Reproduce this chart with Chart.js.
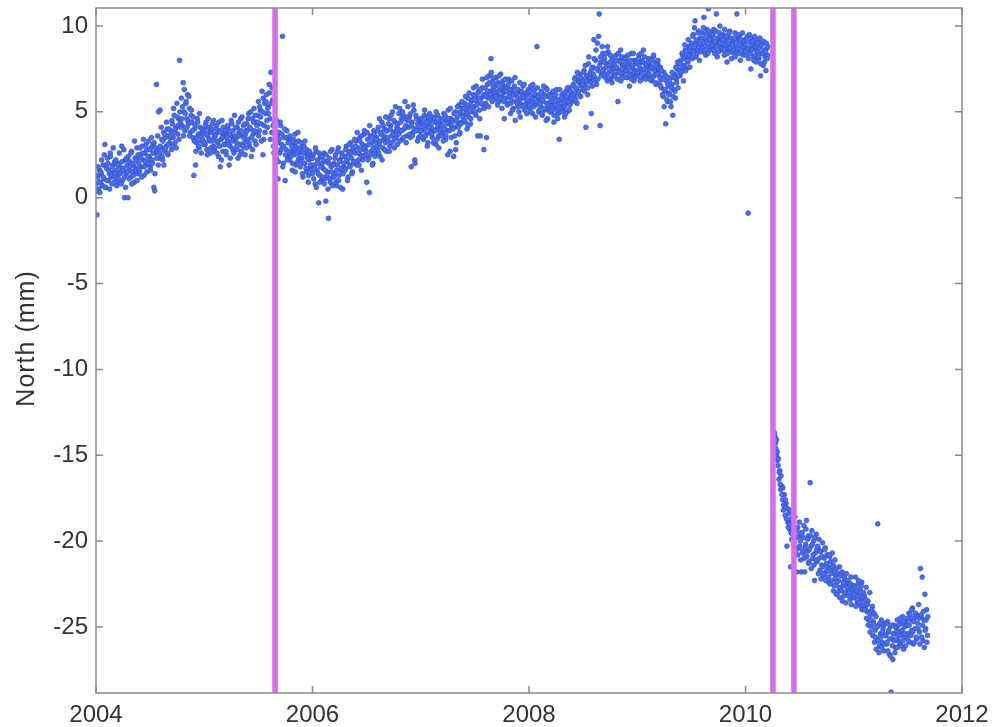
<!DOCTYPE html>
<html>
<head>
<meta charset="utf-8">
<title>North (mm)</title>
<script src="https://cdn.jsdelivr.net/npm/chart.js@4.4.1/dist/chart.umd.min.js"></script>
<style>
  html, body { margin: 0; padding: 0; background: #fff; }
  #wrap { width: 1007px; height: 727px; }
</style>
</head>
<body>
<div id="wrap"><canvas id="north" width="1007" height="727"></canvas></div>
<script>
// GPS north component (mm). Two interleaved passes, each one sample every 3 days;
// the second pass is offset by one day.
const DAY_STEP = 3;
const YEAR_DAYS = 365.25;

const north2004 = [
  0.8, -1.0, 1.2, 0.5, 1.6, 0.9, 1.4, 0.7, 1.9, 1.1, 3.1, 0.6,
  1.7, 2.3, 1.0, 1.4, 2.6, 1.2, 0.8, 1.9, 1.5, 2.1, 1.1, 1.6,
  1.3, 2.0, 0.9, 1.8, 1.5, 3.0, 1.0, 1.7, 0.0, 2.2, 1.4, 1.9,
  0.0, 1.6, 2.1, 1.2, 2.7, 1.5, 1.9, 0.9, 2.3, 1.7, 2.9, 1.4,
  2.0, 1.5, 2.5, 1.8, 3.0, 2.2, 1.3, 2.6, 1.9, 2.8, 2.1, 3.3,
  2.4, 1.8, 2.9, 2.2, 3.1, 0.6, 0.4, 2.6, 6.6, 2.7, 1.9, 2.3,
  5.1, 2.9, 3.4, 2.2, 3.8, 2.7, 3.5, 3.0, 4.0, 2.5, 3.6, 3.2,
  3.9, 2.8, 4.3, 3.5, 4.8, 3.2, 4.1, 5.5, 3.7, 4.6, 8.0, 4.4,
  5.8, 4.2, 6.7, 5.0, 3.9, 5.5, 4.6, 6.0, 4.3, 5.2, 3.8, 4.8,
  4.4, 3.5, 1.3, 4.0, 1.9, 3.2, 4.6, 3.7, 2.9, 4.1, 3.3, 3.8,
  3.4, 4.0
];
const north2004b = [
  1.3, 0.4, 1.8, 0.9, 0.3, 1.5, 2.2, 0.7, 1.2, 2.5, 0.6, 1.9,
  1.0, 2.0, 1.6, 0.5, 2.4, 1.3, 1.8, 2.9, 0.9, 1.4, 2.2, 0.7,
  1.9, 1.1, 2.6, 1.4, 0.8, 2.1, 1.6, 2.8, 1.2, 0.6, 2.3, 1.5,
  2.4, 1.1, 1.8, 2.6, 0.8, 2.0, 1.3, 3.3, 1.6, 2.2, 1.0, 2.5,
  1.7, 2.9, 2.3, 1.2, 2.6, 3.4, 1.8, 2.1, 3.1, 1.5, 2.4, 2.0,
  2.8, 1.6, 3.5, 2.0, 2.6, 3.2, 1.4, 2.9, 2.3, 3.6, 5.0, 2.6,
  3.0, 4.1, 2.4, 3.3, 1.9, 3.7, 2.9, 4.4, 2.6, 3.1, 4.0, 3.5,
  3.6, 4.5, 3.0, 5.2, 3.8, 4.0, 2.9, 4.7, 4.2, 3.4, 5.0, 4.1,
  4.6, 5.3, 3.6, 6.3, 4.9, 5.6, 4.1, 4.5, 5.9, 3.6, 4.4, 5.1,
  3.9, 4.7, 3.3, 4.2, 2.7, 3.5, 4.4, 3.0, 4.9, 3.6, 2.6, 4.0,
  3.7, 3.1
];
const north2005 = [
  3.9, 3.1, 4.4, 2.8, 3.6, 4.1, 3.3, 2.6, 3.8, 4.3, 3.0, 3.5,
  2.9, 3.7, 4.2, 3.2, 2.4, 3.9, 1.8, 3.4, 4.5, 2.7, 3.6, 3.1,
  3.8, 2.5, 3.3, 4.0, 1.9, 3.0, 3.6, 4.3, 2.8, 3.4, 4.8, 2.9,
  3.5, 4.1, 2.3, 3.8, 3.1, 4.6, 2.7, 3.6, 4.2, 3.2, 2.5, 3.9,
  4.3, 3.4, 4.9, 3.0, 4.0, 2.4, 4.6, 3.7, 5.2, 3.3, 4.4, 3.8,
  4.8, 5.6, 3.9, 5.1, 4.3, 6.2, 2.5, 3.4, 5.5, 4.9, 6.0, 4.1,
  5.3, 6.6, 4.6, 7.3, 3.8, 5.7, 3.0, 4.4, 4.1, 2.3, 3.6, 1.1,
  3.8, 2.6, 4.2, 3.1, 9.4, 2.0, 3.5, 1.0, 2.8, 3.9, 2.4, 3.3,
  2.2, 3.4, 2.7, 1.6, 3.1, 2.5, 3.7, 1.9, 2.9, 2.1, 3.3, 2.6,
  1.8, 2.8, 2.3, 1.2, 3.0, 2.0, 2.6, 1.5, 2.4, 0.9, 2.2, 1.7,
  2.5, 1.9
];
const north2005b = [
  3.2, 4.2, 3.7, 2.5, 4.6, 3.4, 3.9, 2.9, 4.0, 3.3, 4.5, 2.7,
  3.6, 4.0, 2.6, 3.3, 4.4, 3.0, 3.8, 2.2, 3.5, 4.1, 3.1, 3.9,
  2.7, 3.5, 4.2, 3.1, 3.7, 2.3, 4.5, 3.3, 3.9, 2.6, 3.6, 4.1,
  3.2, 2.8, 4.4, 3.6, 2.5, 3.9, 4.7, 3.0, 3.5, 4.3, 3.7, 2.9,
  3.9, 4.6, 3.2, 4.1, 5.0, 3.5, 2.8, 4.4, 3.9, 4.8, 3.1, 4.2,
  4.4, 3.6, 5.3, 4.7, 3.3, 5.0, 5.8, 4.2, 3.8, 5.6, 4.5, 5.2,
  4.9, 6.1, 3.4, 5.5, 6.4, 4.2, 2.6, 3.7, 2.9, 4.5, 3.2, 2.1,
  3.4, 4.4, 2.8, 3.7, 1.8, 3.0, 4.0, 2.5, 3.5, 2.2, 3.2, 2.7,
  3.6, 2.4, 3.0, 2.0, 3.4, 2.8, 1.5, 3.2, 2.6, 3.8, 2.3, 2.9,
  2.1, 3.2, 1.4, 2.6, 2.0, 3.3, 1.7, 2.8, 2.3, 1.3, 2.7, 1.9,
  1.6, 2.3
];
const north2006 = [
  1.4, 2.5, 1.9, 0.8, 2.7, 1.6, 2.2, -0.3, 1.3, 2.4, 1.0, 2.0,
  1.7, 2.6, 1.1, -0.2, 2.1, 1.5, -1.2, 2.3, 0.9, 1.8, 2.8, 1.2,
  2.0, 1.4, 2.5, 0.7, 1.9, 2.9, 1.3, 2.2, 1.6, 2.6, 0.5, 1.8,
  2.4, 1.7, 3.0, 2.1, 1.2, 2.7, 1.9, 3.2, 2.3, 1.5, 2.8, 2.0,
  2.6, 3.3, 1.9, 2.9, 2.2, 3.5, 2.5, 1.6, 3.1, 2.4, 3.7, 2.8,
  3.0, 0.9, 3.4, 2.3, 0.3, 3.6, 2.7, 3.2, 2.0, 3.9, 2.6, 3.3,
  3.5, 2.8, 4.1, 3.1, 2.4, 3.7, 4.4, 2.9, 3.4, 4.0, 3.2, 2.7,
  3.9, 3.3, 4.6, 3.0, 4.2, 3.6, 5.0, 3.8, 2.9, 4.4, 3.5, 4.1,
  4.3, 3.7, 5.2, 3.9, 4.6, 3.4, 4.8, 4.0, 5.6, 4.2, 3.6, 4.5,
  4.1, 4.7, 3.5, 1.8, 4.4, 3.8, 5.1, 2.2, 4.0, 4.6, 3.3, 4.3,
  3.9, 4.5
];
const north2006b = [
  2.3, 1.1, 1.7, 2.9, 0.6, 2.0, 1.4, 2.6, 0.9, 1.8, 2.4, 1.2,
  2.2, 0.8, 1.6, 2.5, 1.3, 0.5, 2.0, 1.1, 2.7, 1.5, 0.7, 1.9,
  1.2, 2.3, 0.9, 1.6, 2.7, 1.0, 2.1, 0.6, 1.7, 2.4, 1.4, 2.0,
  1.6, 2.8, 2.2, 1.0, 2.5, 3.1, 1.8, 2.6, 1.4, 2.9, 2.1, 3.4,
  3.0, 2.1, 3.8, 2.6, 1.9, 3.3, 2.8, 3.6, 2.2, 2.9, 3.9, 2.5,
  2.7, 3.8, 2.2, 3.1, 4.2, 2.5, 3.5, 1.9, 2.9, 3.7, 2.4, 3.4,
  3.0, 3.9, 2.6, 4.6, 3.3, 3.8, 2.2, 4.2, 3.6, 2.8, 4.7, 3.9,
  3.5, 4.3, 2.7, 4.0, 4.8, 3.2, 3.7, 4.5, 3.4, 5.3, 3.9, 3.1,
  4.0, 4.9, 3.3, 4.4, 3.9, 5.0, 3.5, 4.6, 4.1, 3.2, 4.7, 5.3,
  4.5, 3.7, 4.9, 4.2, 3.6, 5.4, 4.0, 2.0, 4.8, 3.9, 4.3, 3.5,
  4.2, 3.6
];
const north2007 = [
  4.6, 3.9, 4.3, 3.4, 4.8, 4.0, 3.7, 4.5, 3.2, 4.2, 4.9, 3.8,
  4.1, 3.5, 4.7, 3.9, 4.4, 3.1, 4.0, 4.8, 3.6, 4.3, 3.8, 4.6,
  4.2, 3.7, 4.9, 4.0, 3.4, 4.5, 3.9, 5.1, 4.3, 2.7, 4.6, 4.1,
  4.5, 2.4, 4.1, 5.0, 3.2, 4.7, 4.3, 5.4, 3.8, 4.9, 4.4, 5.2,
  4.8, 5.5, 4.4, 5.1, 4.0, 5.8, 4.7, 5.3, 4.3, 5.6, 5.0, 6.0,
  5.3, 5.9, 4.8, 5.6, 3.6, 6.2, 5.1, 3.6, 5.8, 6.4, 5.4, 2.8,
  6.0, 5.5, 3.5, 6.6, 5.8, 7.1, 6.2, 8.1, 5.9, 6.8, 6.3, 5.7,
  6.5, 7.0, 6.0, 6.7, 5.6, 6.3, 7.2, 5.9, 6.6, 6.1, 4.6, 6.4,
  5.8, 6.4, 5.5, 6.9, 6.1, 4.9, 5.7, 6.3, 5.2, 6.0, 7.0, 5.6,
  5.9, 5.3, 6.2, 5.6, 4.7, 6.1, 5.4, 6.5, 5.8, 5.1, 6.0, 5.5,
  5.7, 6.3
];
const north2007b = [
  3.9, 4.6, 3.5, 4.2, 5.1, 3.6, 4.4, 3.0, 4.7, 4.1, 3.8, 4.5,
  3.7, 4.4, 3.2, 4.6, 3.9, 5.0, 3.4, 4.2, 2.9, 4.5, 4.0, 3.6,
  4.5, 3.3, 4.0, 4.8, 3.6, 4.3, 2.5, 4.6, 3.9, 5.2, 3.5, 4.4,
  4.0, 4.9, 3.6, 2.8, 4.5, 5.3, 4.1, 3.7, 5.0, 4.3, 5.6, 4.7,
  5.2, 4.5, 5.9, 4.9, 5.4, 4.2, 6.1, 5.0, 4.6, 5.7, 5.3, 6.4,
  5.7, 5.0, 6.5, 5.4, 6.1, 5.8, 4.6, 6.3, 5.5, 6.9, 6.0, 5.2,
  6.4, 5.9, 7.0, 6.2, 5.3, 6.7, 6.0, 7.3, 5.6, 6.5, 7.0, 6.1,
  5.9, 6.6, 5.4, 6.2, 7.1, 5.8, 6.4, 5.2, 6.8, 5.6, 6.2, 6.9,
  6.2, 5.4, 6.6, 5.9, 6.3, 5.5, 6.8, 5.1, 6.0, 6.5, 4.5, 6.1,
  5.5, 6.3, 5.0, 6.7, 5.8, 6.2, 5.3, 5.9, 6.6, 5.4, 6.1, 4.9,
  6.0, 5.3
];
const north2008 = [
  6.1, 5.2, 6.5, 5.6, 4.9, 5.9, 6.3, 5.4, 6.0, 8.8, 5.7, 5.0,
  5.8, 5.3, 6.2, 4.8, 5.6, 6.0, 5.1, 6.4, 5.5, 4.6, 5.9, 5.2,
  5.6, 5.0, 6.1, 5.4, 4.4, 5.8, 5.2, 6.3, 5.5, 4.9, 3.4, 5.7,
  5.3, 6.0, 5.1, 5.8, 4.7, 5.5, 6.2, 5.0, 5.7, 6.4, 5.4, 5.9,
  6.1, 5.6, 6.6, 5.9, 7.0, 6.3, 5.5, 6.8, 6.2, 7.2, 5.9, 6.5,
  6.9, 6.3, 7.4, 6.6, 4.1, 7.1, 6.0, 7.8, 6.8, 7.3, 4.9, 7.0,
  7.6, 9.2, 7.0, 8.0, 6.6, 9.0, 7.4, 10.7, 4.2, 7.9, 7.2, 8.4,
  7.5, 8.1, 7.0, 7.8, 6.8, 8.5, 7.3, 7.9, 6.9, 8.2, 7.6, 7.1,
  7.8, 7.2, 8.3, 7.5, 5.6, 8.0, 7.4, 8.6, 7.1, 7.7, 8.1, 7.3,
  7.6, 8.2, 7.0, 7.9, 7.3, 6.5, 7.7, 8.4, 7.2, 7.5, 6.8, 8.0,
  7.4, 7.8
];
const north2008b = [
  5.4, 6.2, 5.0, 5.8, 6.6, 5.3, 6.0, 4.7, 5.6, 6.4, 5.9, 5.1,
  5.5, 6.1, 4.9, 5.7, 6.5, 5.2, 5.9, 4.5, 6.3, 5.4, 6.0, 5.0,
  5.9, 5.1, 5.6, 6.2, 4.8, 5.4, 6.0, 5.1, 4.6, 5.7, 6.3, 5.2,
  5.8, 5.0, 5.5, 6.1, 5.3, 4.9, 5.9, 6.4, 5.6, 5.1, 6.2, 5.7,
  5.8, 6.5, 6.0, 6.9, 5.7, 6.4, 7.3, 6.1, 6.7, 5.9, 7.0, 6.6,
  6.6, 7.3, 6.2, 7.7, 6.8, 7.1, 6.4, 8.2, 7.0, 6.7, 7.5, 6.5,
  7.2, 8.1, 6.8, 8.6, 7.5, 6.9, 9.4, 7.7, 8.2, 7.1, 8.8, 7.4,
  7.9, 7.2, 8.4, 7.6, 8.8, 7.0, 7.7, 8.3, 7.4, 6.7, 8.0, 7.5,
  7.1, 8.0, 7.6, 6.9, 8.4, 7.3, 7.9, 6.8, 8.2, 7.5, 7.0, 7.8,
  8.1, 7.4, 7.0, 8.3, 7.6, 7.1, 8.0, 6.9, 7.7, 8.4, 7.3, 7.0,
  7.9, 7.1
];
const north2009 = [
  7.9, 7.2, 8.3, 7.5, 6.9, 8.0, 7.4, 8.6, 7.1, 7.8, 7.0, 7.6,
  7.3, 8.1, 7.0, 7.7, 6.8, 7.5, 8.2, 7.1, 7.9, 6.6, 7.4, 7.8,
  7.2, 6.7, 7.6, 6.4, 7.0, 5.9, 7.3, 6.2, 4.3, 6.8, 5.6, 6.5,
  6.1, 7.0, 5.3, 6.6, 4.8, 6.3, 7.2, 5.8, 6.9, 7.5, 6.4, 7.8,
  7.1, 8.0, 7.4, 8.3, 6.8, 7.7, 8.6, 7.5, 8.2, 7.9, 8.8, 7.6,
  8.4, 9.0, 8.1, 9.5, 8.6, 10.3, 8.2, 9.1, 8.7, 9.7, 8.0, 9.3,
  8.9, 9.6, 8.5, 10.5, 9.2, 8.3, 9.8, 8.8, 11.0, 9.4, 8.6, 9.1,
  9.3, 8.7, 9.8, 8.4, 9.0, 10.7, 8.2, 9.2, 8.9, 10.0, 8.6, 9.4,
  8.8, 9.5, 8.3, 9.1, 8.7, 7.9, 9.3, 8.5, 9.7, 8.9, 8.1, 9.2,
  9.0, 8.4, 9.6, 8.7, 10.7, 9.2, 8.5, 9.4, 8.0, 8.8, 9.1, 8.3,
  8.6, 9.2
];
const north2009b = [
  7.3, 8.1, 7.7, 6.8, 8.4, 7.2, 7.9, 7.5, 8.2, 6.9, 7.8, 7.4,
  7.9, 7.2, 6.9, 8.0, 7.6, 7.0, 8.3, 7.4, 6.7, 7.7, 7.2, 8.0,
  7.5, 7.0, 6.5, 7.4, 6.0, 6.9, 5.3, 6.3, 7.1, 5.7, 6.6, 6.0,
  6.8, 5.6, 6.4, 7.3, 5.9, 7.0, 6.2, 7.6, 6.7, 7.9, 7.1, 7.4,
  7.8, 7.3, 8.4, 7.6, 8.1, 8.9, 7.4, 8.5, 8.0, 9.2, 8.3, 8.7,
  8.8, 8.2, 9.4, 8.5, 9.9, 8.9, 9.2, 8.4, 9.6, 8.8, 9.0, 8.5,
  9.3, 8.7, 9.9, 9.0, 8.6, 9.5, 9.1, 8.4, 9.7, 9.2, 8.8, 9.6,
  8.9, 9.5, 8.6, 9.1, 9.7, 8.8, 9.3, 8.5, 9.6, 9.0, 9.4, 8.7,
  9.2, 8.6, 9.8, 8.9, 9.4, 8.4, 9.0, 9.6, 8.7, 9.3, 8.5, 8.9,
  8.6, 9.3, 8.2, 9.0, 8.7, 9.5, 8.4, 8.9, 9.2, 8.5, 9.6, 8.8,
  9.1, 8.4
];
// 2010 up to the April event
const north2010a = [
  8.9, 8.3, 9.4, -0.9, 8.6, 9.1, 7.5, 8.8, 9.3, 8.2, 8.7, 9.0,
  7.9, 8.5, 9.2, 8.1, 8.8, 7.1, 8.4, 9.0, 7.7, 8.6, 8.2, 7.4,
  8.7, 8.3
];
const north2010ab = [
  8.5, 9.2, 8.7, 8.1, 9.5, 8.4, 8.9, 8.6, 9.1, 8.0, 9.4, 8.3,
  8.8, 9.0, 8.2, 8.7, 9.3, 7.8, 8.9, 8.4, 9.1, 7.9, 8.5, 9.0,
  8.1, 8.8
];
// post-seismic, starting day 98 of 2010
const POST_START_DAY = 98;
const north2010b = [
  -13.7, -14.3, -15.0, -14.8, -15.6, -16.4, -15.9, -17.0, -16.8, -17.6, -18.2, -17.3,
  -18.5, -17.8, -20.3, -18.9, -18.4, -19.3, -21.5, -18.7, -19.6, -19.0, -20.1, -18.6,
  -19.8, -21.8, -19.2, -20.4, -18.9, -20.0, -21.8, -19.5, -20.7, -19.1, -21.8, -20.2,
  -18.8, -20.6, -19.7, -21.2, -16.6, -20.3, -19.4, -21.0, -20.0, -22.3, -20.7, -19.6,
  -21.2, -20.4, -19.9, -21.7, -20.6, -21.4, -20.1, -22.0, -21.0, -20.4, -21.8, -20.8,
  -21.5, -22.4, -20.9, -21.2, -21.9, -20.7, -21.4, -22.6, -21.1, -22.0, -21.6, -23.0,
  -22.3, -21.5, -22.8, -22.0, -21.8, -22.6, -23.2, -22.2, -22.5, -21.9, -23.0, -22.4,
  -22.8, -23.4, -22.1, -23.0, -22.6
];
const north2010bb = [
  -13.9, -14.6, -14.1, -15.3, -15.2, -16.0, -16.7, -16.2, -17.3, -16.9, -17.9, -18.0,
  -17.6, -18.7, -18.1, -19.2, -19.0, -18.2, -19.5, -19.9, -18.8, -20.2, -19.3, -19.8,
  -20.5, -19.4, -20.8, -19.7, -20.3, -21.1, -19.6, -20.6, -19.8, -21.0, -20.4, -19.3,
  -20.9, -19.9, -21.3, -20.5, -19.7, -21.6, -20.2, -20.8, -21.4, -19.8, -21.1, -20.5,
  -20.3, -21.9, -21.0, -20.6, -22.2, -20.9, -21.5, -21.9, -20.5, -22.3, -21.3, -21.7,
  -22.1, -20.8, -22.5, -21.6, -22.3, -21.5, -22.9, -21.8, -22.2, -23.1, -22.4, -21.9,
  -22.7, -23.3, -22.0, -22.9, -23.5, -22.4, -22.1, -23.0, -23.6, -22.7, -22.3, -23.2,
  -23.0, -22.5, -23.7, -22.8, -23.3
];
const north2011 = [
  -22.6, -23.3, -22.1, -23.0, -23.6, -22.5, -23.1, -22.8, -23.8, -22.4, -23.4, -23.0,
  -23.2, -23.9, -22.7, -24.1, -23.5, -24.6, -23.0, -24.3, -25.0, -23.8, -24.7, -24.2,
  -25.2, -24.4, -25.8, -19.0, -24.9, -26.1, -25.4, -24.6, -25.9, -25.1, -26.4, -24.8,
  -25.5, -26.0, -24.7, -25.3, -26.6, -25.0, -28.8, -25.7, -26.9, -24.9, -25.4, -26.2,
  -25.1, -24.6, -25.8, -25.3, -26.0, -24.8, -25.5, -24.4, -26.3, -25.0, -24.7, -25.6,
  -24.9, -25.4, -24.2, -25.9, -24.6, -25.2, -23.9, -26.0, -24.5, -25.1, -24.3, -25.7,
  -24.8, -23.7, -25.3, -21.6, -24.4, -22.1, -25.8, -24.6, -23.1, -25.1, -24.0, -25.5
];
const north2011b = [
  -23.1, -22.7, -23.8, -22.9, -23.4, -22.3, -23.6, -23.2, -22.6, -24.0, -23.3, -23.7,
  -24.0, -23.4, -24.5, -23.7, -24.9, -24.2, -25.3, -24.6, -24.0, -25.5, -24.8, -25.9,
  -25.6, -26.3, -25.0, -25.8, -26.5, -24.8, -25.6, -26.2, -25.3, -24.9, -26.0, -25.5,
  -24.8, -25.9, -26.4, -25.2, -25.7, -26.7, -24.9, -26.1, -25.4, -25.8, -26.5, -25.0,
  -25.7, -26.2, -24.9, -25.5, -24.5, -26.1, -25.2, -25.8, -24.7, -25.4, -26.1, -24.9,
  -24.5, -25.8, -24.9, -24.3, -25.5, -24.0, -25.3, -24.7, -25.9, -24.2, -25.6, -24.4,
  -25.1, -24.5, -26.0, -24.3, -25.6, -24.9, -24.1, -26.2, -25.2, -24.6, -25.9, -24.4
];

// earthquake epochs (decimal year)
const eventYears = [2005.654, 2010.254, 2010.447];

const X_MIN = 2004, X_MAX = 2012;
const Y_MIN = -28.85, Y_MAX = 11.05;
const X_TICKS = [2004, 2006, 2008, 2010, 2012];
const Y_TICKS = [10, 5, 0, -5, -10, -15, -20, -25];
const FONT = 'Liberation Sans, Arial, sans-serif';

function toPoints(startYear, startDay, values) {
  return values.map((v, i) => ({ x: startYear + (startDay + i * DAY_STEP) / YEAR_DAYS, y: v }));
}

const gpsPoints = [
  ...toPoints(2004, 0, north2004), ...toPoints(2004, 1, north2004b),
  ...toPoints(2005, 0, north2005), ...toPoints(2005, 1, north2005b),
  ...toPoints(2006, 0, north2006), ...toPoints(2006, 1, north2006b),
  ...toPoints(2007, 0, north2007), ...toPoints(2007, 1, north2007b),
  ...toPoints(2008, 0, north2008), ...toPoints(2008, 1, north2008b),
  ...toPoints(2009, 0, north2009), ...toPoints(2009, 1, north2009b),
  ...toPoints(2010, 0, north2010a), ...toPoints(2010, 1, north2010ab),
  ...toPoints(2010, POST_START_DAY, north2010b), ...toPoints(2010, POST_START_DAY + 1, north2010bb),
  ...toPoints(2011, 0, north2011), ...toPoints(2011, 1, north2011b)
];

// box frame, inward tick marks on all four sides, rotated y title
const frameTicks = {
  id: 'frameTicks',
  afterDraw(chart) {
    const { ctx, chartArea: a, scales: { x, y } } = chart;
    ctx.save();
    ctx.strokeStyle = '#8a8a8a';
    ctx.lineWidth = 1.5;
    ctx.strokeRect(a.left, a.top, a.right - a.left, a.bottom - a.top);
    ctx.beginPath();
    for (const v of X_TICKS) {
      const px = x.getPixelForValue(v);
      ctx.moveTo(px, a.bottom); ctx.lineTo(px, a.bottom - 7);
      ctx.moveTo(px, a.top); ctx.lineTo(px, a.top + 7);
    }
    for (const v of Y_TICKS) {
      const py = y.getPixelForValue(v);
      ctx.moveTo(a.left, py); ctx.lineTo(a.left + 7, py);
      ctx.moveTo(a.right, py); ctx.lineTo(a.right - 7, py);
    }
    ctx.stroke();

    ctx.translate(27, y.getPixelForValue(-8.2));
    ctx.rotate(-Math.PI / 2);
    ctx.fillStyle = '#333';
    ctx.font = '25px ' + FONT;
    ctx.letterSpacing = '1px';
    ctx.textAlign = 'center';
    ctx.textBaseline = 'middle';
    ctx.fillText('North (mm)', 0, 0);
    ctx.restore();
  }
};

const eventSets = eventYears.map(yr => ({
  data: [{ x: yr, y: Y_MIN }, { x: yr, y: Y_MAX }],
  showLine: true,
  borderColor: '#d56fe7',
  borderWidth: 5.5,
  pointRadius: 0
}));

new Chart(document.getElementById('north'), {
  type: 'scatter',
  data: {
    datasets: [
      ...eventSets,
      {
        data: gpsPoints,
        backgroundColor: '#4a6df1',
        borderColor: '#3050c4',
        borderWidth: 0.7,
        pointRadius: 2.4
      }
    ]
  },
  options: {
    responsive: false,
    animation: false,
    layout: { padding: { top: 8, right: 45, bottom: 0, left: 0 } },
    plugins: { legend: { display: false }, tooltip: { enabled: false } },
    scales: {
      x: {
        type: 'linear',
        min: X_MIN, max: X_MAX,
        afterBuildTicks: s => { s.ticks = X_TICKS.map(v => ({ value: v })); },
        afterFit: s => { s.height = 34; s.paddingLeft = 0; s.paddingRight = 0; },
        grid: { display: false, drawTicks: false },
        border: { display: false },
        ticks: { color: '#333', padding: 8, maxRotation: 0, font: { family: FONT, size: 24 }, callback: v => String(v) }
      },
      y: {
        min: Y_MIN, max: Y_MAX,
        afterBuildTicks: s => { s.ticks = Y_TICKS.map(v => ({ value: v })); },
        afterFit: s => { s.width = 96; s.paddingTop = 0; s.paddingBottom = 0; },
        grid: { display: false, drawTicks: false },
        border: { display: false },
        ticks: { color: '#333', padding: 8, font: { family: FONT, size: 24 }, callback: v => String(v) }
      }
    }
  },
  plugins: [frameTicks]
});
</script>
</body>
</html>
